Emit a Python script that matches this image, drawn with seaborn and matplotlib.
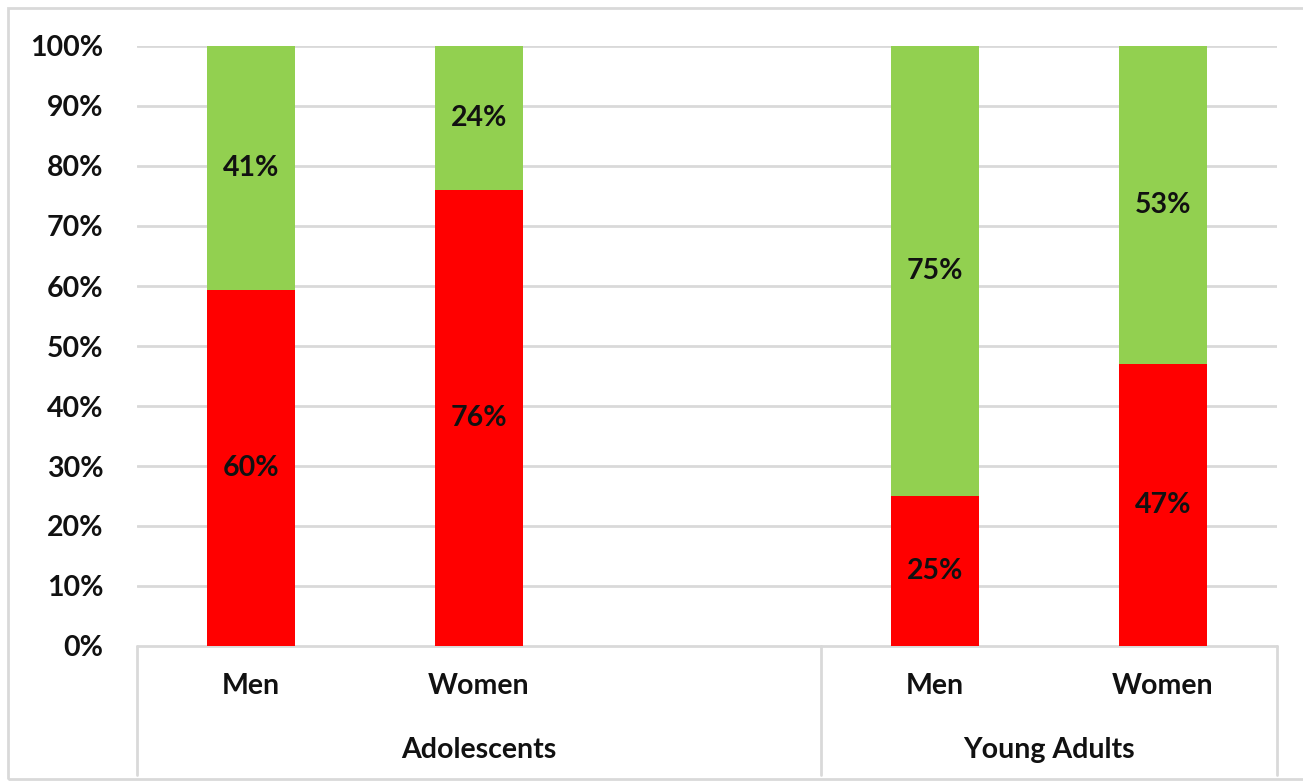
import matplotlib
matplotlib.use("Agg")
import matplotlib.pyplot as plt
import matplotlib.transforms as mtransforms
from matplotlib.patches import Rectangle
from matplotlib.lines import Line2D
import seaborn as sns
import pandas as pd

# Survey shares per group and gender (percent)
groups = ["Adolescents", "Adolescents", "Young Adults", "Young Adults"]
genders = ["Men", "Women", "Men", "Women"]
red_share = [60, 76, 25, 47]
green_share = [41, 24, 75, 53]
y_ticks = [0, 10, 20, 30, 40, 50, 60, 70, 80, 90, 100]

RED = "#FF0000"
GREEN = "#92D050"
GRID = "#D9D9D9"
TEXT = "#111111"
FS = 20.5

sns.set_theme(style="white")
plt.rcParams["font.family"] = ["Lato", "DejaVu Sans"]
plt.rcParams["font.weight"] = "bold"

keys = [f"{g} {s}" for g, s in zip(groups, genders)]
totals = [r + g for r, g in zip(red_share, green_share)]
df = pd.DataFrame({
    "key": keys,
    "group": groups,
    "gender": genders,
    "red": red_share,
    "green": green_share,
    "red_norm": [r / t * 100 for r, t in zip(red_share, totals)],
    "full": [100.0] * len(keys),
})
# an empty slot separates the two groups on the category axis
order = keys[:2] + ["_gap"] + keys[2:]

fig = plt.figure(figsize=(13.03, 7.84), dpi=100)
ax = fig.add_axes([137 / 1303, 1 - 646 / 784, (1277 - 137) / 1303, 600 / 784])

sns.barplot(data=df, x="key", y="full", order=order, color=GREEN,
            width=0.39, saturation=1, linewidth=0, ax=ax, zorder=3)
sns.barplot(data=df, x="key", y="red_norm", order=order, color=RED,
            width=0.39, saturation=1, linewidth=0, ax=ax, zorder=4)

ax.set_ylim(0, 100)
ax.set_xlim(-0.5, len(order) - 0.5)
ax.set_yticks(y_ticks)
ax.set_yticklabels([f"{v}%" for v in y_ticks], fontsize=FS, fontweight="bold",
                   color=TEXT)
ax.tick_params(axis="y", length=0, pad=24)
ax.set_xticks([])
ax.set_xlabel("")
ax.set_ylabel("")
for sp in ax.spines.values():
    sp.set_visible(False)
for v in y_ticks[1:]:
    ax.axhline(v, color=GRID, lw=2, zorder=1)

# segment labels
for _, row in df.iterrows():
    xi = order.index(row["key"])
    rtop = row["red_norm"]
    ax.text(xi, rtop / 2, f"{row['red']}%", ha="center", va="center",
            fontsize=FS, fontweight="bold", color=TEXT, zorder=5)
    ax.text(xi, rtop + (100 - rtop) / 2, f"{row['green']}%", ha="center",
            va="center", fontsize=FS, fontweight="bold", color=TEXT, zorder=5)

# multi-level category axis
trans = mtransforms.blended_transform_factory(ax.transData, ax.transAxes)
ax.add_line(Line2D([-0.5, len(order) - 0.5], [0, 0], transform=trans,
                   color=GRID, lw=2, clip_on=False, zorder=2))
for xb in [-0.5, 2.5, len(order) - 0.5]:
    ax.add_line(Line2D([xb, xb], [0, -0.215], transform=trans,
                       color=GRID, lw=2, clip_on=False))
for _, row in df.iterrows():
    xi = order.index(row["key"])
    ax.text(xi, -0.067, row["gender"], transform=trans, ha="center", va="center",
            fontsize=FS, fontweight="bold", color=TEXT)
group_spans = {"Adolescents": (-0.5, 2.5), "Young Adults": (2.5, len(order) - 0.5)}
for name, (a, b) in group_spans.items():
    ax.text((a + b) / 2, -0.173, name, transform=trans, ha="center", va="center",
            fontsize=FS, fontweight="bold", color=TEXT)

# chart area border
fig.patches.append(Rectangle((8 / 1303, 1 - 779 / 784), 1.0, (779 - 8) / 784,
                             transform=fig.transFigure, fill=False,
                             edgecolor=GRID, lw=2))

fig.savefig("out.png", dpi=100, facecolor="white")
